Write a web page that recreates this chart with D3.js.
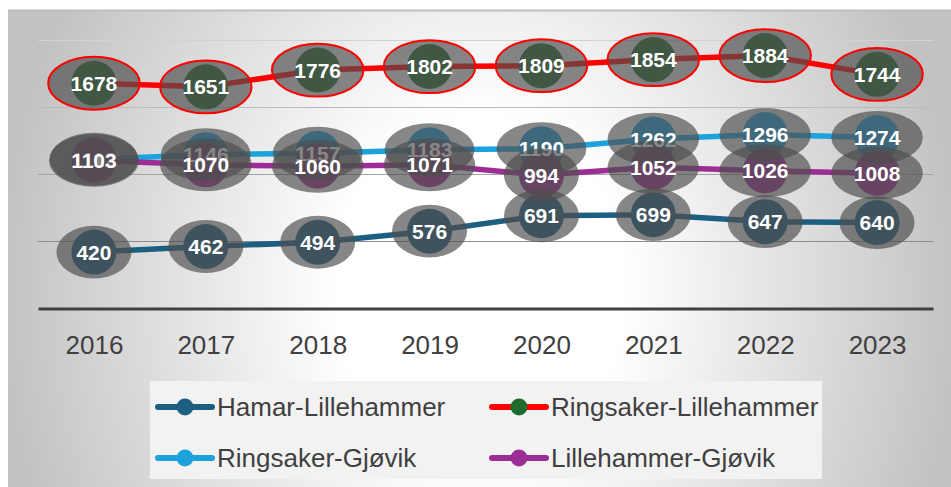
<!DOCTYPE html>
<html>
<head>
<meta charset="utf-8">
<script src="https://cdn.jsdelivr.net/npm/d3@7"></script>
<style>
  html, body { margin: 0; padding: 0; background: #ffffff; }
  svg { display: block; }
</style>
</head>
<body>
<svg id="chart" width="951" height="487"></svg>
<script>
// Travel counts between town pairs, 2016–2023
const years = ["2016", "2017", "2018", "2019", "2020", "2021", "2022", "2023"];
const hamarLillehammer     = [420, 462, 494, 576, 691, 699, 647, 640];
const ringsakerLillehammer = [1678, 1651, 1776, 1802, 1809, 1854, 1884, 1744];
const ringsakerGjovik      = [1112, 1146, 1157, 1183, 1190, 1262, 1296, 1274];
const lillehammerGjovik    = [1103, 1070, 1060, 1071, 994, 1052, 1026, 1008];
const seriesNames = ["Hamar-Lillehammer", "Ringsaker-Lillehammer", "Ringsaker-Gjøvik", "Lillehammer-Gjøvik"];
const yTicks = [0, 500, 1000, 1500, 2000];

const series = [
  { name: seriesNames[0], values: hamarLillehammer,     line: "#1d5f80", marker: "#1d5f80", ring: null },
  { name: seriesNames[1], values: ringsakerLillehammer, line: "#ff0000", marker: "#1f6b2e", ring: "#ff0000" },
  { name: seriesNames[2], values: ringsakerGjovik,      line: "#1ea2dc", marker: "#1ea2dc", ring: null },
  { name: seriesNames[3], values: lillehammerGjovik,    line: "#9b2d94", marker: "#9b2d94", ring: null }
];

const svg = d3.select("#chart");
const defs = svg.append("defs");

// Soft radial backdrop, bright in the middle and grey toward the edges
const bg = defs.append("radialGradient")
  .attr("id", "bgGrad")
  .attr("gradientUnits", "userSpaceOnUse")
  .attr("cx", 480).attr("cy", 290).attr("r", 480)
  .attr("gradientTransform", "translate(480,290) scale(1,1.2) translate(-480,-290)");
bg.append("stop").attr("offset", 0).attr("stop-color", "#ffffff");
bg.append("stop").attr("offset", 0.3).attr("stop-color", "#ffffff");
bg.append("stop").attr("offset", 1).attr("stop-color", "#c2c2c2");

svg.append("rect")
  .attr("x", 8).attr("y", 10).attr("width", 950).attr("height", 480)
  .attr("fill", "url(#bgGrad)");
svg.append("line")
  .attr("x1", 8).attr("x2", 951).attr("y1", 10.5).attr("y2", 10.5)
  .attr("stroke", "#bdbdbd").attr("stroke-width", 2);

const x = d3.scalePoint().domain(years).range([38, 933]).padding(0.5);
const y = d3.scaleLinear().domain([0, 2000]).range([308.5, 40]);

// Horizontal gridlines, darkening toward the baseline
const gridShade = d3.scaleLinear().domain([2000, 500]).range(["#d2d2d2", "#8c8c8c"]);
svg.append("g").selectAll("line")
  .data(yTicks.filter(t => t > 0))
  .join("line")
  .attr("x1", 38).attr("x2", 933)
  .attr("y1", d => Math.round(y(d)) + 0.5).attr("y2", d => Math.round(y(d)) + 0.5)
  .attr("stroke", d => gridShade(d))
  .attr("stroke-width", 1.2);

// Category axis
const xAxis = svg.append("g")
  .attr("transform", `translate(0,${y(0)})`)
  .call(d3.axisBottom(x).tickSize(0).tickSizeOuter(0).tickPadding(27));
xAxis.select(".domain").attr("stroke", "#404040").attr("stroke-width", 3);
xAxis.selectAll("text")
  .attr("fill", "#404040")
  .style("font-family", "'Liberation Sans', Arial, sans-serif")
  .style("font-size", "26px");

// Lines
const lineGen = d3.line().x((d, i) => x(years[i])).y(d => y(d));
svg.append("g").selectAll("path")
  .data(series)
  .join("path")
  .attr("d", s => lineGen(s.values))
  .attr("fill", "none")
  .attr("stroke", s => s.line)
  .attr("stroke-width", 5.5)
  .attr("stroke-linejoin", "round");

// Markers
series.forEach(s => {
  svg.append("g").selectAll("circle")
    .data(s.values)
    .join("circle")
    .attr("cx", (d, i) => x(years[i]))
    .attr("cy", d => y(d))
    .attr("r", 22.5)
    .attr("fill", s.marker);
});

// Data labels inside translucent ovals
const labelFont = "'Liberation Sans', Arial, sans-serif";
series.forEach(s => {
  const g = svg.append("g");
  s.values.forEach((v, i) => {
    const cx = x(years[i]), cy = y(v);
    const lg = g.append("g");
    const ell = lg.append("ellipse")
      .attr("cx", cx).attr("cy", cy)
      .attr("fill", "#4e4e4e").attr("fill-opacity", 0.68);
    const txt = lg.append("text")
      .attr("x", cx).attr("y", cy)
      .attr("dy", "0.36em")
      .attr("text-anchor", "middle")
      .attr("fill", "#ffffff")
      .style("font-family", labelFont)
      .style("font-weight", "bold")
      .style("font-size", "21px")
      .text(v);
    const w = txt.node().getComputedTextLength();
    ell.attr("rx", (w / 2 + 9) * Math.SQRT2).attr("ry", 18.7 * Math.SQRT2);
    if (s.ring) ell.attr("stroke", s.ring).attr("stroke-width", 2);
  });
});

// Legend
const legend = svg.append("g");
legend.append("rect")
  .attr("x", 150).attr("y", 381).attr("width", 672).attr("height", 98)
  .attr("fill", "#f2f2f2");
const legendPos = [
  { x: 156, y: 407 }, { x: 490, y: 407 },
  { x: 156, y: 458 }, { x: 490, y: 458 }
];
series.forEach((s, i) => {
  const p = legendPos[i];
  const item = legend.append("g").attr("transform", `translate(${p.x},${p.y})`);
  item.append("line")
    .attr("x1", 2).attr("x2", 56).attr("y1", 0).attr("y2", 0)
    .attr("stroke", s.line).attr("stroke-width", 6).attr("stroke-linecap", "round");
  item.append("circle").attr("cx", 29).attr("cy", 0).attr("r", 8.5).attr("fill", s.marker);
  item.append("text")
    .attr("x", 61).attr("y", 0).attr("dy", "0.35em")
    .attr("fill", "#404040")
    .style("font-family", labelFont)
    .style("font-size", "26px")
    .text(s.name);
});
</script>
</body>
</html>
